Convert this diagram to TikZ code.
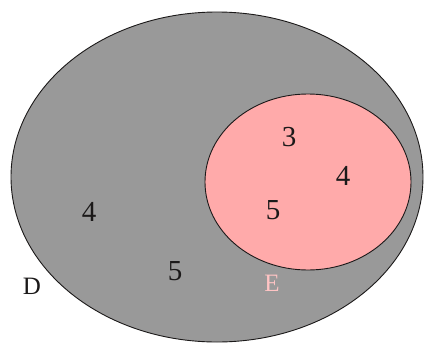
\documentclass[tikz,border=0pt]{standalone}
\usepackage{fontspec}
\setmainfont{Liberation Serif}
\usepackage{xcolor}
\usetikzlibrary{positioning}
\definecolor{setD}{HTML}{999999}
\definecolor{setE}{HTML}{FFAAAA}
\definecolor{ink}{HTML}{1B1919}
\tikzset{
  num/.style={font=\fontsize{29}{29}\selectfont, text=ink, inner sep=0pt},
  setname/.style={font=\fontsize{25}{25}\selectfont, inner sep=0pt},
}

\begin{document}
\begin{tikzpicture}[x=1pt, y=-1pt,
  region/.style={draw=ink, line width=0.9pt}]
\useasboundingbox (0,0) rectangle (426,343);
\fill[white] (0,0) rectangle (426,343);
% the two sets
\draw[region, fill=setD] (217,177) ellipse [x radius=206, y radius=165];
\draw[region, fill=setE] (308,182) ellipse [x radius=103, y radius=88];
% elements
\node[num] (e3) at (289,137) {3};
\node[num] (e4) at (343,176) {4};
\node[num] (e5) at (273,210) {5};
\node[num] (d4) at (89,212) {4};
\node[num] (d5) at (175,271) {5};
% set names
\node[setname, text=ink] (nD) at (32,286) {D};
\node[setname, text=setE!70!white] (nE) at (272,283) {E};
\end{tikzpicture}
\end{document}
